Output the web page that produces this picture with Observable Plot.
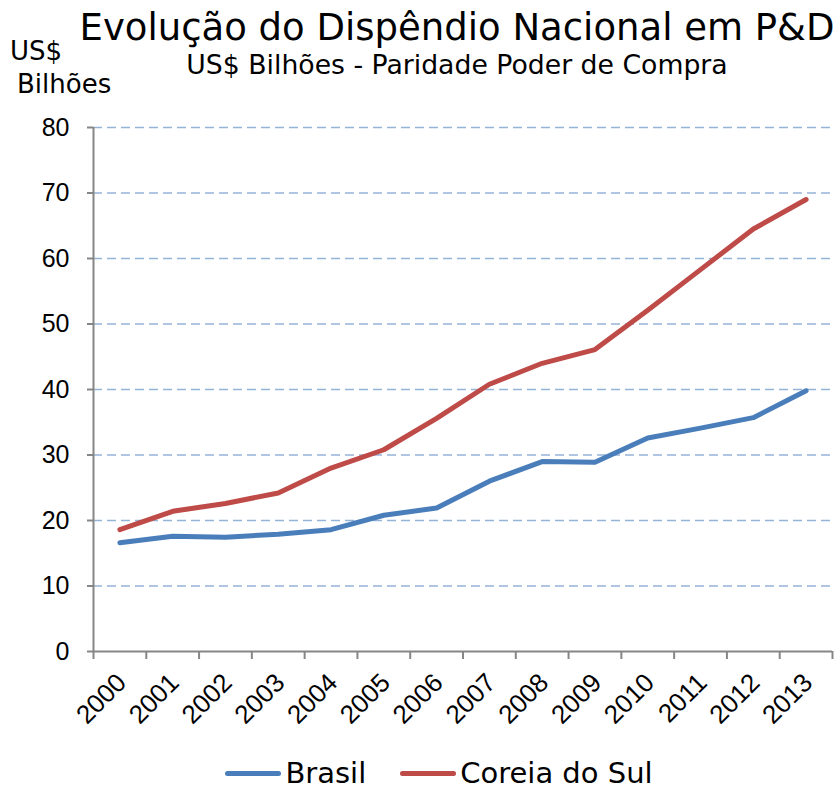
<!DOCTYPE html>
<html>
<head>
<meta charset="utf-8">
<script src="https://cdn.jsdelivr.net/npm/d3@7"></script>
<script src="https://cdn.jsdelivr.net/npm/@observablehq/plot@0.6"></script>
<style>
  html, body { margin: 0; padding: 0; background: #fff; overflow: hidden; }
  #wrap { position: relative; width: 836px; height: 791px; font-family: "DejaVu Sans", sans-serif; color: #000; }
  #chart { position: absolute; left: 0; top: 0; }
  .abs { position: absolute; white-space: nowrap; line-height: 1; }
  #title { left: 78px; width: 758px; top: 9px; text-align: center; font-size: 37px; }
  #subtitle { left: 78px; width: 758px; top: 52px; text-align: center; font-size: 26.7px; }
  #ylab1 { left: 10px; top: 38px; font-size: 26px; }
  #ylab2 { left: 17px; top: 71px; font-size: 26px; }
  #legend { left: 0; width: 878px; top: 759px; display: flex; justify-content: center; align-items: center; font-size: 29px; }
  .sw { display: inline-block; width: 56px; height: 5px; border-radius: 3px; margin-right: 4px; }
  .item { display: inline-flex; align-items: center; margin: 0 17px; }
</style>
</head>
<body>
<div id="wrap">
  <div id="chart"></div>
  <div class="abs" id="title">Evolução do Dispêndio Nacional em P&amp;D</div>
  <div class="abs" id="subtitle">US$ Bilhões - Paridade Poder de Compra</div>
  <div class="abs" id="ylab1">US$</div>
  <div class="abs" id="ylab2">Bilhões</div>
  <div class="abs" id="legend"></div>
</div>
<script>
const years = [2000, 2001, 2002, 2003, 2004, 2005, 2006, 2007, 2008, 2009, 2010, 2011, 2012, 2013];
const brasil = [16.6, 17.6, 17.45, 17.9, 18.6, 20.8, 21.9, 26.0, 29.0, 28.9, 32.6, 34.1, 35.7, 39.8];
const coreia = [18.6, 21.4, 22.6, 24.2, 28.0, 30.8, 35.6, 40.8, 44.0, 46.1, 52.1, 58.3, 64.5, 69.0];
const yTicks = [0, 10, 20, 30, 40, 50, 60, 70, 80];
const seriesNames = ["Brasil", "Coreia do Sul"];
const seriesColors = ["#4a7ebb", "#be4b48"];

const data = [];
years.forEach((yr, i) => data.push({year: yr, value: brasil[i], series: seriesNames[0]}));
years.forEach((yr, i) => data.push({year: yr, value: coreia[i], series: seriesNames[1]}));
const boundaries = years.map(y => y - 0.5).concat([years[years.length - 1] + 0.5]);

const axisGray = "#868686";

const chart = Plot.plot({
  width: 836,
  height: 791,
  marginLeft: 93,
  marginRight: 4,
  marginTop: 127,
  marginBottom: 140,
  style: { fontFamily: "'Liberation Sans', Arial, sans-serif", fontSize: "25px", background: "transparent", color: "#000" },
  x: { type: "linear", domain: [boundaries[0], boundaries[boundaries.length - 1]], axis: null },
  y: { domain: [0, 80], axis: null },
  color: { domain: seriesNames, range: seriesColors },
  marks: [
    Plot.gridY({ ticks: yTicks.filter(d => d > 0), stroke: "#95b3d7", strokeOpacity: 1, strokeWidth: 1.5, strokeDasharray: "9,5" }),
    Plot.axisY({ ticks: yTicks, tickSize: 6, tickPadding: 18, stroke: axisGray, strokeWidth: 2, fill: "#000", fontSize: 25, label: null, tickFormat: d => String(d) }),
    Plot.axisX({ ticks: boundaries, tickSize: 8, tickPadding: 0, stroke: axisGray, strokeWidth: 2, tickFormat: () => "", label: null }),
    Plot.axisX({ ticks: years, tickSize: 0, tickPadding: 27, tickRotate: -45, dx: 2, fill: "#000", fontSize: 26, label: null, tickFormat: d => String(d) }),
    Plot.ruleX([boundaries[0]], { stroke: axisGray, strokeWidth: 2 }),
    Plot.ruleY([0], { stroke: axisGray, strokeWidth: 2 }),
    Plot.line(data, { x: "year", y: "value", z: "series", stroke: "series", strokeWidth: 5, strokeLinecap: "round", strokeLinejoin: "round" })
  ]
});
document.getElementById("chart").appendChild(chart);

const legend = document.getElementById("legend");
seriesNames.forEach((name, i) => {
  const item = document.createElement("span");
  item.className = "item";
  const sw = document.createElement("span");
  sw.className = "sw";
  sw.style.background = seriesColors[i];
  const label = document.createElement("span");
  label.textContent = name;
  item.appendChild(sw);
  item.appendChild(label);
  legend.appendChild(item);
});
</script>
</body>
</html>
